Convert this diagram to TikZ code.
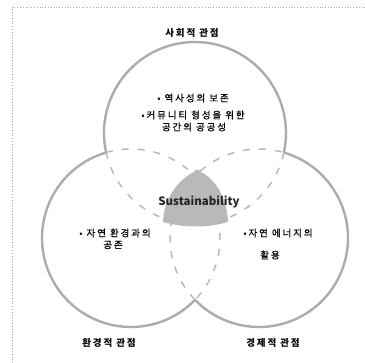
\documentclass[tikz,border=0pt]{standalone}
\usepackage{fontspec}
\usetikzlibrary{calc}
\newfontfamily\kr[LetterSpace=20]{Noto Sans CJK KR}
\newfontfamily\krm[LetterSpace=20,FakeBold=0.8]{Noto Sans CJK KR}
\newfontfamily\lat{Noto Sans CJK KR}
\begin{document}
\begin{tikzpicture}[x=1pt,y=-1pt,
  outline/.style={draw=gray!65,line width=2.4pt},
  inner/.style={draw=gray!55,line width=1.5pt,dash pattern=on 7pt off 9pt},
  framel/.style={draw=gray!70,line width=0.8pt,dotted},
  title/.style={font=\kr\bfseries\fontsize{9.5}{11}\selectfont,text=black},
  body/.style={font=\krm\fontsize{9.5}{11}\selectfont,text=black,align=center},
  core/.style={fill=gray!55,draw=none}]
\useasboundingbox (0,0) rectangle (365,363);
\draw[framel] (12,363) -- (12,7) -- (365,7);
\coordinate (T) at (195,133);
\coordinate (L) at (131,238);
\coordinate (R) at (259,238);
% top circle
\draw[outline] ($(T)+(167.6:91)$) arc[start angle=167.6,end angle=372.4,radius=91];
\draw[inner] ($(T)+(12.4:91)$) arc[start angle=12.4,end angle=167.6,radius=91];
% left circle
\draw[outline] ($(L)+(44:89)$) arc[start angle=44,end angle=253.7,radius=89];
\draw[inner] ($(L)+(253.7:89)$) arc[start angle=253.7,end angle=404,radius=89];
% right circle
\draw[outline] ($(R)+(286.3:89)$) arc[start angle=286.3,end angle=496,radius=89];
\draw[inner] ($(R)+(136:89)$) arc[start angle=136,end angle=286.3,radius=89];
% core
\fill[core] (194,172) .. controls (178,180) and (164,198) .. (163,222)
  .. controls (185,228) and (207,228) .. (228,222)
  .. controls (227,198) and (216,180) .. (201,172)
  .. controls (199,169) and (196,169) .. (194,172) -- cycle;
\node[title] (ts) at (192,33) {사회적 관점};
\node[title] (tl) at (109,343) {환경적 관점};
\node[title] (tr) at (273,343) {경제적 관점};
\node[body] (b1) at (193,98) {• 역사성의 보존};
\node[body] (b2) at (193,115) {•커뮤니티 형성을 위한};
\node[body] (b3) at (194,127) {공간의 공공성};
\node[body] (l1) at (115,233) {• 자연 환경과의};
\node[body] (l2) at (113,245) {공존};
\node[body] (r1) at (278,233) {•자연 에너지의};
\node[body] (r2) at (270,255) {활용};
\node[font=\lat\bfseries\fontsize{11.5}{14}\selectfont,text=black!85] (sus) at (199,202) {Sustainability};
\end{tikzpicture}
\end{document}
